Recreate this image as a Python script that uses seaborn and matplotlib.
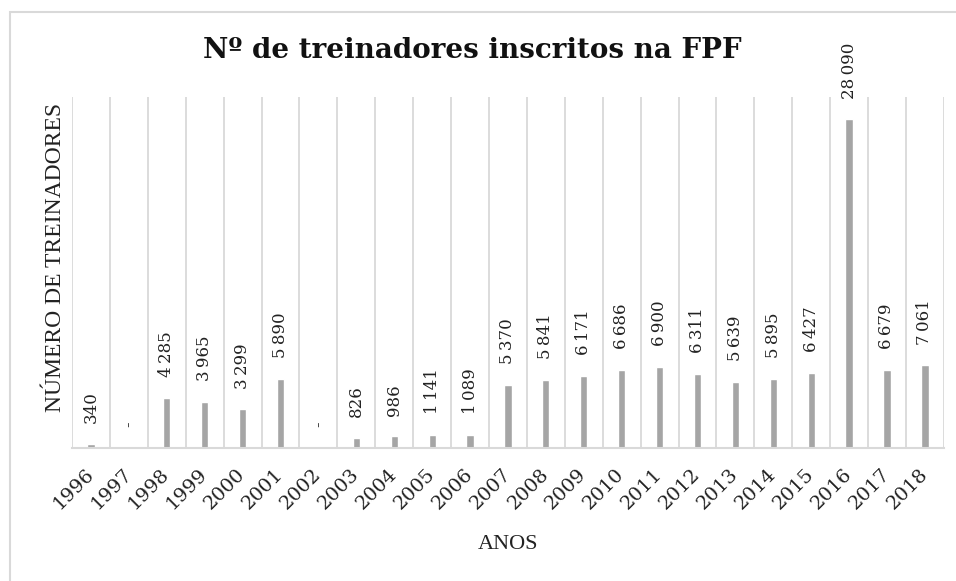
import matplotlib
matplotlib.use("Agg")
import numpy as np
import pandas as pd
import seaborn as sns
from matplotlib import pyplot as plt
from matplotlib.patches import Rectangle

anos = [str(a) for a in range(1996, 2019)]
treinadores = [340, 0, 4285, 3965, 3299, 5890, 0, 826, 986, 1141, 1089,
               5370, 5841, 6171, 6686, 6900, 6311, 5639, 5895, 6427, 28090,
               6679, 7061]

BAR = "#a5a5a5"
GRID = "#d9d9d9"
TXT = "#222222"
SERIF = ["Liberation Serif", "DejaVu Serif"]
NUM = ["DejaVu Serif"]


def fmt(v):
    if v == 0:
        return "-"
    return f"{v:,}".replace(",", "\u2009")


def main():
    sns.set_theme(style="white")
    plt.rcParams["font.family"] = SERIF

    df = pd.DataFrame({"ano": anos, "n": treinadores})

    fig = plt.figure(figsize=(9.56, 5.81), dpi=100)
    ax = fig.add_axes([0.0753, 0.229, 0.912, 0.604])

    sns.barplot(data=df, x="ano", y="n", color=BAR, width=0.19,
                saturation=1, ax=ax)

    ax.set_ylim(0, 30000)
    ax.set_xlim(-0.5, len(anos) - 0.5)
    ax.set_yticks([])
    ax.set_xticks(np.arange(len(anos) + 1) - 0.5, minor=True)
    ax.grid(which="minor", axis="x", color=GRID, lw=1.3)
    ax.tick_params(which="both", length=0)
    ax.tick_params(axis="x", which="major", pad=17)
    for lab in ax.get_xticklabels():
        lab.set_rotation(45)
        lab.set_ha("right")
        lab.set_va("center")
        lab.set_rotation_mode("anchor")
        lab.set_fontsize(14)
        lab.set_family(NUM)
        lab.set_color(TXT)

    for s in ["top", "right", "left"]:
        ax.spines[s].set_visible(False)
    ax.spines["bottom"].set_color(GRID)
    ax.spines["bottom"].set_linewidth(1.5)

    for i, v in enumerate(treinadores):
        ax.annotate(fmt(v), (i, v), xytext=(0, 15),
                    textcoords="offset points", rotation=90,
                    ha="center", va="bottom", fontsize=12, family=NUM,
                    color=TXT)

    ax.set_xlabel("ANOS", fontsize=16, color=TXT)
    ax.xaxis.set_label_coords(0.5, -0.248)
    ax.set_ylabel("NÚMERO DE TREINADORES", fontsize=17, color=TXT)
    ax.yaxis.set_label_coords(-0.007, 0.544)

    fig.text(0.494, 0.913, "Nº de treinadores inscritos na FPF",
             ha="center", va="center", fontsize=20, fontweight="bold",
             family=["DejaVu Serif"], color="#111111")

    fig.patches.append(Rectangle((10 / 956, -0.1), 1.2, 1 - 12 / 581 + 0.1,
                                 transform=fig.transFigure, fill=False,
                                 edgecolor=GRID, lw=1.5))

    fig.savefig("out.png", dpi=100)
    plt.close(fig)


if __name__ == "__main__":
    main()
